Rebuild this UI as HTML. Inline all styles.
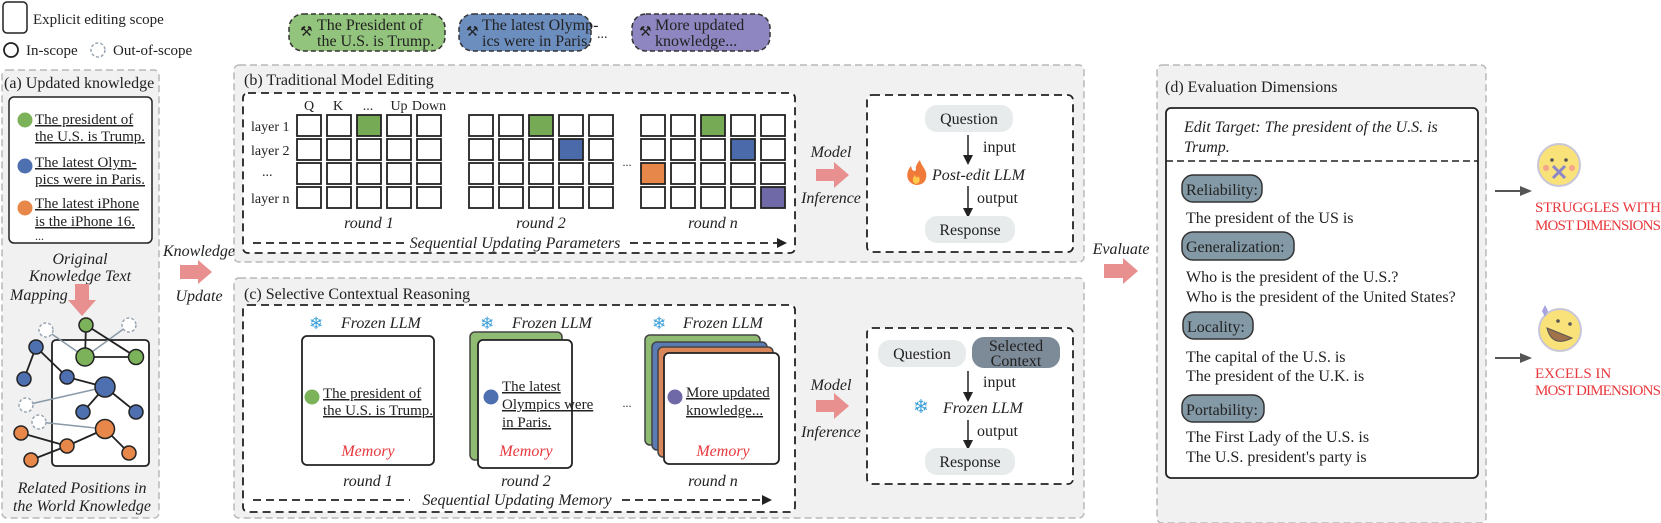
<!DOCTYPE html>
<html><head><meta charset="utf-8"><style>
html,body{margin:0;padding:0;background:#fff;}
svg{display:block;}
text{font-family:"Liberation Serif",serif;fill:#222;}
.it{font-style:italic;}
.u{text-decoration:underline;}
</style></head><body>
<svg width="1661" height="523" viewBox="0 0 1661 523" xmlns="http://www.w3.org/2000/svg">
<defs>
<marker id="ah" markerWidth="10" markerHeight="10" refX="8" refY="5" orient="auto" markerUnits="userSpaceOnUse"><path d="M0,0 L10,5 L0,10 z" fill="#222"/></marker>
<marker id="ag" markerWidth="12" markerHeight="12" refX="10" refY="6" orient="auto" markerUnits="userSpaceOnUse"><path d="M0,1 L12,6 L0,11 z" fill="#555"/></marker>
</defs>

<!-- Legend -->
<rect x="3" y="2" width="24" height="31" rx="4" fill="#fff" stroke="#222" stroke-width="1.5"/>
<text x="33" y="24" font-size="15">Explicit editing scope</text>
<circle cx="11" cy="50" r="7" fill="#fff" stroke="#222" stroke-width="1.8"/>
<text x="26" y="55" font-size="15">In-scope</text>
<circle cx="98" cy="50" r="7" fill="#fff" stroke="#9aa5b1" stroke-width="1.5" stroke-dasharray="3 2"/>
<text x="113" y="55" font-size="15">Out-of-scope</text>

<!-- Top pills -->
<rect x="289" y="14" width="156" height="37" rx="14" fill="#93c47d" stroke="#333" stroke-width="1.5" stroke-dasharray="5 3"/>
<text x="300" y="36" font-size="14">⚒</text>
<text x="317" y="30" font-size="16">The President of</text>
<text x="317" y="46" font-size="16">the U.S. is Trump.</text>
<rect x="459" y="14" width="132" height="37" rx="14" fill="#6c8ebf" stroke="#333" stroke-width="1.5" stroke-dasharray="5 3"/>
<text x="466" y="36" font-size="14">⚒</text>
<text x="482" y="30" font-size="16">The latest Olymp-</text>
<text x="482" y="46" font-size="16">ics were in Paris.</text>
<text x="597" y="38" font-size="14">...</text>
<rect x="632" y="14" width="138" height="37" rx="14" fill="#8e86c0" stroke="#333" stroke-width="1.5" stroke-dasharray="5 3"/>
<text x="639" y="36" font-size="14">⚒</text>
<text x="655" y="30" font-size="16">More updated</text>
<text x="655" y="46" font-size="16">knowledge...</text>

<!-- Panels -->
<rect x="2" y="70" width="157" height="448" rx="5" fill="#f1f1f1" stroke="#b8b8b8" stroke-width="1.5" stroke-dasharray="7 4"/>
<rect x="234" y="65" width="850" height="197" rx="5" fill="#f1f1f1" stroke="#b8b8b8" stroke-width="1.5" stroke-dasharray="7 4"/>
<rect x="234" y="278" width="850" height="240" rx="5" fill="#f1f1f1" stroke="#b8b8b8" stroke-width="1.5" stroke-dasharray="7 4"/>
<rect x="1157" y="65" width="329" height="458" rx="5" fill="#f1f1f1" stroke="#b8b8b8" stroke-width="1.5" stroke-dasharray="7 4"/>

<!-- Panel a -->
<text x="4" y="88" font-size="16">(a) Updated knowledge</text>
<rect x="9" y="97" width="143" height="146" rx="5" fill="#fff" stroke="#222" stroke-width="1.5"/>
<circle cx="25" cy="120" r="7.5" fill="#7cb35a"/>
<text x="35" y="124" font-size="15" class="u">The president of</text>
<text x="35" y="141" font-size="15" class="u">the U.S. is Trump.</text>
<circle cx="25" cy="166" r="7.5" fill="#4f70b0"/>
<text x="35" y="167" font-size="15" class="u">The latest Olym-</text>
<text x="35" y="184" font-size="15" class="u">pics were in Paris.</text>
<circle cx="25" cy="208" r="7.5" fill="#e8874a"/>
<text x="35" y="208" font-size="15" class="u">The latest iPhone</text>
<text x="35" y="226" font-size="15" class="u">is the iPhone 16.</text>
<text x="35" y="240" font-size="12">...</text>
<text x="80" y="264" font-size="16" class="it" text-anchor="middle">Original</text>
<text x="80" y="281" font-size="16" class="it" text-anchor="middle">Knowledge Text</text>
<text x="10" y="300" font-size="16" class="it">Mapping</text>
<path d="M75,284 H89 V300 H96 L82,316 L68,300 H75 Z" fill="#e8908f"/>

<!-- graph -->
<rect x="52" y="340" width="97" height="126" rx="4" fill="#fff" stroke="#222" stroke-width="1.8"/>
<g stroke="#8a99a8" stroke-width="1.5">
<line x1="46" y1="330" x2="85" y2="357"/><line x1="129" y1="325" x2="85" y2="357"/>
<line x1="26" y1="405" x2="105" y2="387"/><line x1="39" y1="422" x2="105" y2="429"/>
</g>
<g stroke="#222" stroke-width="1.8">
<line x1="86" y1="325" x2="85" y2="357"/><line x1="86" y1="325" x2="136" y2="357"/><line x1="85" y1="357" x2="136" y2="357"/>
<line x1="36" y1="347" x2="24" y2="379"/><line x1="36" y1="347" x2="67" y2="377"/><line x1="67" y1="377" x2="105" y2="387"/>
<line x1="105" y1="387" x2="83" y2="412"/><line x1="105" y1="387" x2="136" y2="412"/>
<line x1="21" y1="433" x2="67" y2="446"/><line x1="31" y1="460" x2="67" y2="446"/><line x1="67" y1="446" x2="105" y2="429"/><line x1="105" y1="429" x2="129" y2="453"/>
</g>
<g fill="#fff" stroke="#9aa5b1" stroke-width="1.5" stroke-dasharray="3 2">
<circle cx="46" cy="330" r="7"/><circle cx="129" cy="325" r="7"/><circle cx="26" cy="405" r="7"/><circle cx="39" cy="422" r="7"/>
</g>
<g stroke="#222" stroke-width="1.5">
<circle cx="86" cy="325" r="7" fill="#7cb35a"/><circle cx="85" cy="357" r="9" fill="#7cb35a"/><circle cx="136" cy="357" r="7.5" fill="#7cb35a"/>
<circle cx="36" cy="347" r="7" fill="#4f70b0"/><circle cx="24" cy="379" r="7" fill="#4f70b0"/><circle cx="67" cy="377" r="7" fill="#4f70b0"/>
<circle cx="105" cy="387" r="10" fill="#4f70b0"/><circle cx="83" cy="412" r="7" fill="#4f70b0"/><circle cx="136" cy="412" r="7" fill="#4f70b0"/>
<circle cx="21" cy="433" r="7" fill="#e8874a"/><circle cx="31" cy="460" r="7" fill="#e8874a"/><circle cx="67" cy="446" r="7" fill="#e8874a"/>
<circle cx="105" cy="429" r="9.5" fill="#e8874a"/><circle cx="129" cy="453" r="7" fill="#e8874a"/>
</g>
<text x="82" y="493" font-size="16" class="it" text-anchor="middle">Related Positions in</text>
<text x="82" y="511" font-size="16" class="it" text-anchor="middle">the World Knowledge</text>

<!-- Knowledge update -->
<text x="199" y="256" font-size="16" class="it" text-anchor="middle">Knowledge</text>
<path d="M180,265 H198 V260 L212,272 L198,284 V279 H180 Z" fill="#e8908f"/>
<text x="199" y="301" font-size="16" class="it" text-anchor="middle">Update</text>

<!-- Panel b -->
<text x="244" y="85" font-size="16">(b) Traditional Model Editing</text>
<rect x="243" y="93" width="552" height="160" rx="5" fill="#fff" stroke="#222" stroke-width="1.8" stroke-dasharray="8 5"/>
<g font-size="14" text-anchor="middle">
<text x="309" y="110">Q</text><text x="338" y="110">K</text><text x="368" y="110">...</text><text x="399" y="110">Up</text><text x="429" y="110">Down</text>
</g>
<g font-size="14">
<text x="251" y="131">layer 1</text><text x="251" y="155">layer 2</text><text x="262" y="176">...</text><text x="251" y="203">layer n</text>
</g>
<g stroke="#222" stroke-width="1.8" fill="#fff">
<!-- round 1 -->
<rect x="297" y="115" width="24" height="21"/><rect x="327" y="115" width="24" height="21"/><rect x="357" y="115" width="24" height="21" fill="#77aa55"/><rect x="387" y="115" width="24" height="21"/><rect x="417" y="115" width="24" height="21"/>
<rect x="297" y="139" width="24" height="21"/><rect x="327" y="139" width="24" height="21"/><rect x="357" y="139" width="24" height="21"/><rect x="387" y="139" width="24" height="21"/><rect x="417" y="139" width="24" height="21"/>
<rect x="297" y="163" width="24" height="21"/><rect x="327" y="163" width="24" height="21"/><rect x="357" y="163" width="24" height="21"/><rect x="387" y="163" width="24" height="21"/><rect x="417" y="163" width="24" height="21"/>
<rect x="297" y="187" width="24" height="21"/><rect x="327" y="187" width="24" height="21"/><rect x="357" y="187" width="24" height="21"/><rect x="387" y="187" width="24" height="21"/><rect x="417" y="187" width="24" height="21"/>
<!-- round 2 -->
<rect x="469" y="115" width="24" height="21"/><rect x="499" y="115" width="24" height="21"/><rect x="529" y="115" width="24" height="21" fill="#77aa55"/><rect x="559" y="115" width="24" height="21"/><rect x="589" y="115" width="24" height="21"/>
<rect x="469" y="139" width="24" height="21"/><rect x="499" y="139" width="24" height="21"/><rect x="529" y="139" width="24" height="21"/><rect x="559" y="139" width="24" height="21" fill="#4a6aaa"/><rect x="589" y="139" width="24" height="21"/>
<rect x="469" y="163" width="24" height="21"/><rect x="499" y="163" width="24" height="21"/><rect x="529" y="163" width="24" height="21"/><rect x="559" y="163" width="24" height="21"/><rect x="589" y="163" width="24" height="21"/>
<rect x="469" y="187" width="24" height="21"/><rect x="499" y="187" width="24" height="21"/><rect x="529" y="187" width="24" height="21"/><rect x="559" y="187" width="24" height="21"/><rect x="589" y="187" width="24" height="21"/>
<!-- round n -->
<rect x="641" y="115" width="24" height="21"/><rect x="671" y="115" width="24" height="21"/><rect x="701" y="115" width="24" height="21" fill="#77aa55"/><rect x="731" y="115" width="24" height="21"/><rect x="761" y="115" width="24" height="21"/>
<rect x="641" y="139" width="24" height="21"/><rect x="671" y="139" width="24" height="21"/><rect x="701" y="139" width="24" height="21"/><rect x="731" y="139" width="24" height="21" fill="#4a6aaa"/><rect x="761" y="139" width="24" height="21"/>
<rect x="641" y="163" width="24" height="21" fill="#e8874a"/><rect x="671" y="163" width="24" height="21"/><rect x="701" y="163" width="24" height="21"/><rect x="731" y="163" width="24" height="21"/><rect x="761" y="163" width="24" height="21"/>
<rect x="641" y="187" width="24" height="21"/><rect x="671" y="187" width="24" height="21"/><rect x="701" y="187" width="24" height="21"/><rect x="731" y="187" width="24" height="21"/><rect x="761" y="187" width="24" height="21" fill="#7069a8"/>
</g>
<text x="627" y="166" font-size="12" text-anchor="middle">...</text>
<g font-size="16" class="it" text-anchor="middle">
<text x="369" y="228">round 1</text><text x="541" y="228">round 2</text><text x="713" y="228">round n</text>
</g>
<line x1="253" y1="243" x2="405" y2="243" stroke="#222" stroke-width="1.8" stroke-dasharray="8 5"/>
<text x="515" y="248" font-size="16" class="it" text-anchor="middle">Sequential Updating Parameters</text>
<line x1="630" y1="243" x2="785" y2="243" stroke="#222" stroke-width="1.8" stroke-dasharray="8 5" marker-end="url(#ah)"/>

<text x="831" y="157" font-size="16" class="it" text-anchor="middle">Model</text>
<path d="M816,169 H834 V162 L849,175 L834,188 V181 H816 Z" fill="#e8908f"/>
<text x="831" y="203" font-size="16" class="it" text-anchor="middle">Inference</text>

<rect x="867" y="95" width="206" height="157" rx="5" fill="#fff" stroke="#222" stroke-width="1.8" stroke-dasharray="8 5"/>
<rect x="925" y="105" width="88" height="27" rx="12" fill="#e8ebec"/>
<text x="969" y="124" font-size="16" text-anchor="middle">Question</text>
<line x1="968" y1="135" x2="968" y2="163" stroke="#222" stroke-width="1.5" marker-end="url(#ah)"/>
<text x="983" y="152" font-size="16">input</text>
<path d="M916,185 C906,183 905,173 911,166 C912,171 914,172 916,170 C915,166 918,162 920,160 C921,166 928,170 926,178 C925,183 921,185 916,185 Z" fill="#f07a3a"/>
<path d="M916,184 C912,183 912,178 915,175 C916,178 918,178 918,176 C921,179 920,183 916,184 Z" fill="#ffc94a"/>
<text x="932" y="180" font-size="16" class="it">Post-edit LLM</text>
<line x1="968" y1="186" x2="968" y2="216" stroke="#222" stroke-width="1.5" marker-end="url(#ah)"/>
<text x="977" y="203" font-size="16">output</text>
<rect x="925" y="216" width="90" height="27" rx="12" fill="#e8ebec"/>
<text x="970" y="235" font-size="16" text-anchor="middle">Response</text>

<!-- Panel c -->
<text x="244" y="299" font-size="16">(c) Selective Contextual Reasoning</text>
<rect x="243" y="305" width="552" height="207" rx="5" fill="#fff" stroke="#222" stroke-width="1.8" stroke-dasharray="8 5"/>
<g font-size="17" fill="#3b9fd8">
<text x="309" y="329" style="fill:#3b9fd8">❄</text><text x="480" y="329" style="fill:#3b9fd8">❄</text><text x="652" y="329" style="fill:#3b9fd8">❄</text>
</g>
<g font-size="16" class="it">
<text x="341" y="328">Frozen LLM</text><text x="512" y="328">Frozen LLM</text><text x="683" y="328">Frozen LLM</text>
</g>
<rect x="302" y="336" width="132" height="129" rx="5" fill="#fff" stroke="#222" stroke-width="1.8"/>
<circle cx="312" cy="397" r="7.5" fill="#7cb35a"/>
<text x="323" y="398" font-size="15" class="u">The president of</text>
<text x="323" y="415" font-size="15" class="u">the U.S. is Trump.</text>
<text x="368" y="456" font-size="16" class="it" text-anchor="middle" style="fill:#e8383d">Memory</text>

<rect x="470" y="332" width="92" height="128" rx="5" fill="#8fbb72" stroke="#444" stroke-width="1.5"/>
<rect x="478" y="340" width="94" height="128" rx="5" fill="#fff" stroke="#222" stroke-width="1.8"/>
<circle cx="491" cy="397" r="7.5" fill="#4f70b0"/>
<text x="502" y="391" font-size="15" class="u">The latest</text>
<text x="502" y="409" font-size="15" class="u">Olympics were</text>
<text x="502" y="427" font-size="15" class="u">in Paris.</text>
<text x="526" y="456" font-size="16" class="it" text-anchor="middle" style="fill:#e8383d">Memory</text>
<text x="627" y="407" font-size="12" text-anchor="middle">...</text>

<rect x="645" y="335" width="115" height="110" rx="5" fill="#8fbb72" stroke="#444" stroke-width="1.5"/>
<rect x="652" y="342" width="115" height="108" rx="5" fill="#5b7bb5" stroke="#444" stroke-width="1.5"/>
<rect x="658" y="347" width="115" height="110" rx="5" fill="#d9875a" stroke="#444" stroke-width="1.5"/>
<rect x="664" y="353" width="115" height="111" rx="5" fill="#fff" stroke="#222" stroke-width="1.8"/>
<circle cx="675" cy="397" r="7.5" fill="#7069a8"/>
<text x="686" y="397" font-size="15" class="u">More updated</text>
<text x="686" y="415" font-size="15" class="u">knowledge...</text>
<text x="723" y="456" font-size="16" class="it" text-anchor="middle" style="fill:#e8383d">Memory</text>
<g font-size="16" class="it" text-anchor="middle">
<text x="368" y="486">round 1</text><text x="526" y="486">round 2</text><text x="713" y="486">round n</text>
</g>
<line x1="253" y1="500" x2="410" y2="500" stroke="#222" stroke-width="1.8" stroke-dasharray="8 5"/>
<text x="517" y="505" font-size="16" class="it" text-anchor="middle">Sequential Updating Memory</text>
<line x1="622" y1="500" x2="770" y2="500" stroke="#222" stroke-width="1.8" stroke-dasharray="8 5" marker-end="url(#ah)"/>

<text x="831" y="390" font-size="16" class="it" text-anchor="middle">Model</text>
<path d="M816,400 H834 V393 L849,406 L834,419 V412 H816 Z" fill="#e8908f"/>
<text x="831" y="437" font-size="16" class="it" text-anchor="middle">Inference</text>

<rect x="867" y="328" width="206" height="156" rx="5" fill="#fff" stroke="#222" stroke-width="1.8" stroke-dasharray="8 5"/>
<rect x="878" y="340" width="88" height="27" rx="12" fill="#e8ebec"/>
<text x="922" y="359" font-size="16" text-anchor="middle">Question</text>
<rect x="972" y="337" width="88" height="31" rx="12" fill="#7d8a98"/>
<text x="1016" y="351" font-size="16" text-anchor="middle">Selected</text>
<text x="1016" y="366" font-size="16" text-anchor="middle">Context</text>
<line x1="968" y1="371" x2="968" y2="400" stroke="#222" stroke-width="1.5" marker-end="url(#ah)"/>
<text x="983" y="387" font-size="16">input</text>
<text x="913" y="413" font-size="19" style="fill:#3b9fd8">❄</text>
<text x="943" y="413" font-size="16" class="it">Frozen LLM</text>
<line x1="968" y1="420" x2="968" y2="448" stroke="#222" stroke-width="1.5" marker-end="url(#ah)"/>
<text x="977" y="436" font-size="16">output</text>
<rect x="925" y="448" width="90" height="27" rx="12" fill="#e8ebec"/>
<text x="970" y="467" font-size="16" text-anchor="middle">Response</text>

<!-- Evaluate -->
<text x="1121" y="254" font-size="16" class="it" text-anchor="middle">Evaluate</text>
<path d="M1104,264 H1123 V258 L1138,271 L1123,284 V278 H1104 Z" fill="#e8908f"/>

<!-- Panel d -->
<text x="1165" y="92" font-size="16">(d) Evaluation Dimensions</text>
<rect x="1166" y="108" width="312" height="370" rx="5" fill="#fff" stroke="#222" stroke-width="1.8"/>
<line x1="1166" y1="161" x2="1478" y2="161" stroke="#222" stroke-width="1.5" stroke-dasharray="7 4"/>
<text x="1184" y="132" font-size="16" class="it">Edit Target: The president of the U.S. is</text>
<text x="1184" y="152" font-size="16" class="it">Trump.</text>
<g fill="#8399a6" stroke="#333" stroke-width="1.5">
<rect x="1182" y="175" width="80" height="27" rx="11"/>
<rect x="1182" y="232" width="112" height="28" rx="11"/>
<rect x="1183" y="312" width="70" height="27" rx="11"/>
<rect x="1182" y="395" width="82" height="27" rx="11"/>
</g>
<g font-size="16">
<text x="1186" y="195">Reliability:</text>
<text x="1186" y="223">The president of the US is</text>
<text x="1186" y="252">Generalization:</text>
<text x="1186" y="282">Who is the president of the U.S.?</text>
<text x="1186" y="302">Who is the president of the United States?</text>
<text x="1187" y="332">Locality:</text>
<text x="1186" y="362">The capital of the U.S. is</text>
<text x="1186" y="381">The president of the U.K. is</text>
<text x="1186" y="415">Portability:</text>
<text x="1186" y="442">The First Lady of the U.S. is</text>
<text x="1186" y="462">The U.S. president's party is</text>
</g>

<!-- Results -->
<line x1="1495" y1="191" x2="1530" y2="191" stroke="#555" stroke-width="2" marker-end="url(#ag)"/>
<circle cx="1559" cy="165" r="21" fill="#f9e27a" stroke="#c9c6d8" stroke-width="2"/>
<circle cx="1552" cy="160" r="1.8" fill="#555"/><circle cx="1566" cy="160" r="1.8" fill="#555"/>
<circle cx="1546" cy="168" r="3" fill="#f4a58a"/><circle cx="1572" cy="168" r="3" fill="#f4a58a"/>
<path d="M1553,166 L1565,178 M1565,166 L1553,178" stroke="#8a86c8" stroke-width="3"/>
<text x="1535" y="212" font-size="15" textLength="126" style="fill:#e8383d">STRUGGLES WITH</text>
<text x="1535" y="230" font-size="15" textLength="126" style="fill:#e8383d">MOST DIMENSIONS</text>

<line x1="1495" y1="358" x2="1530" y2="358" stroke="#555" stroke-width="2" marker-end="url(#ag)"/>
<circle cx="1560" cy="330" r="21" fill="#f9e27a" stroke="#c9c6d8" stroke-width="2"/>
<circle cx="1558" cy="321" r="1.8" fill="#555"/><circle cx="1570" cy="324" r="1.8" fill="#555"/>
<path d="M1547,328 Q1552,348 1572,338 Z" fill="#a0724a" stroke="#555" stroke-width="1"/>
<path d="M1542,311 L1545,305 L1548,311 L1545,317 Z" fill="#a9a4e0"/>
<text x="1535" y="378" font-size="15" style="fill:#e8383d">EXCELS IN</text>
<text x="1535" y="395" font-size="15" textLength="126" style="fill:#e8383d">MOST DIMENSIONS</text>
</svg>
</body></html>
